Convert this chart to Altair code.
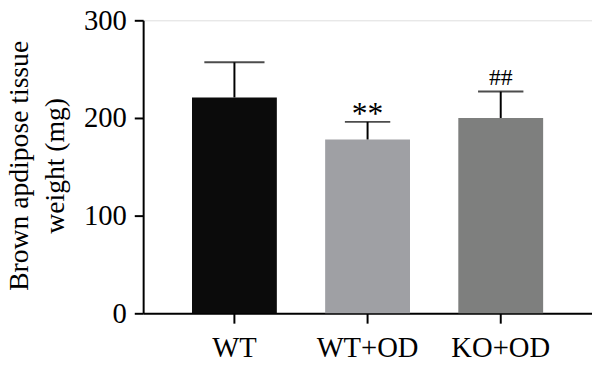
import altair as alt
import pandas as pd

groups = ["WT", "WT+OD", "KO+OD"]
means = [221, 178, 200]
errors = [36, 18, 27]
colors = ["#0b0b0b", "#9fa0a4", "#7e7f7e"]
marks = ["", "**", "##"]
cap_sizes = [61, 46, 46]

df = pd.DataFrame({
    "group": groups,
    "mean": means,
    "upper": [m + e for m, e in zip(means, errors)],
    "mark": marks,
    "cap": cap_sizes,
})

FONT = "Liberation Serif"

x = alt.X("group:N", sort=groups,
          scale=alt.Scale(paddingInner=0.363, paddingOuter=0.367),
          axis=alt.Axis(title=None, labelAngle=0, labelFont=FONT, labelFontSize=29,
                        labelColor="black", tickSize=10, tickWidth=2, tickColor="black",
                        domainColor="black", domainWidth=2, labelPadding=11))
y_axis = alt.Axis(title=["Brown apdipose tissue", "weight (mg)"], values=[0, 100, 200, 300],
                  grid=False, labelFont=FONT, labelFontSize=29, labelColor="black",
                  labelPadding=8, tickSize=9, tickWidth=2, tickColor="black",
                  domainColor="black", domainWidth=2,
                  titleFont=FONT, titleFontSize=28, titleFontWeight="normal",
                  titleColor="black", titleLineHeight=36, titleAngle=-90,
                  titleBaseline="alphabetic", titleAlign="center",
                  titleX=-117, titleY=147)
y = alt.Y("mean:Q", scale=alt.Scale(domain=[0, 300], nice=False), axis=y_axis)

base = alt.Chart(df)

bars = base.mark_bar(size=86).encode(
    x=x, y=y,
    color=alt.Color("group:N", scale=alt.Scale(domain=groups, range=colors), legend=None),
)
err = base.mark_rule(strokeWidth=2, color="black").encode(
    x=alt.X("group:N", sort=groups), y="mean:Q", y2="upper:Q")
caps = base.mark_tick(thickness=2, color="black").encode(
    x=alt.X("group:N", sort=groups), y="upper:Q",
    size=alt.Size("cap:Q", scale=None, legend=None))
star = base.transform_filter(alt.datum.group == "WT+OD").mark_text(
    font=FONT, fontSize=32, baseline="alphabetic", dy=2, color="black").encode(
    x=alt.X("group:N", sort=groups), y="upper:Q", text="mark:N")
hash_ = base.transform_filter(alt.datum.group == "KO+OD").mark_text(
    font=FONT, fontSize=24, baseline="alphabetic", dy=-7, color="black").encode(
    x=alt.X("group:N", sort=groups), y="upper:Q", text="mark:N")

chart = alt.layer(bars, err, caps, star, hash_).properties(
    width=455, height=297,
    autosize=alt.AutoSizeParams(type="none"),
    padding={"left": 137, "top": 10, "right": 0, "bottom": 55},
).configure_view(stroke=None).configure(background="white")

chart.save("out.html", embed_options={"renderer": "svg", "actions": False})
